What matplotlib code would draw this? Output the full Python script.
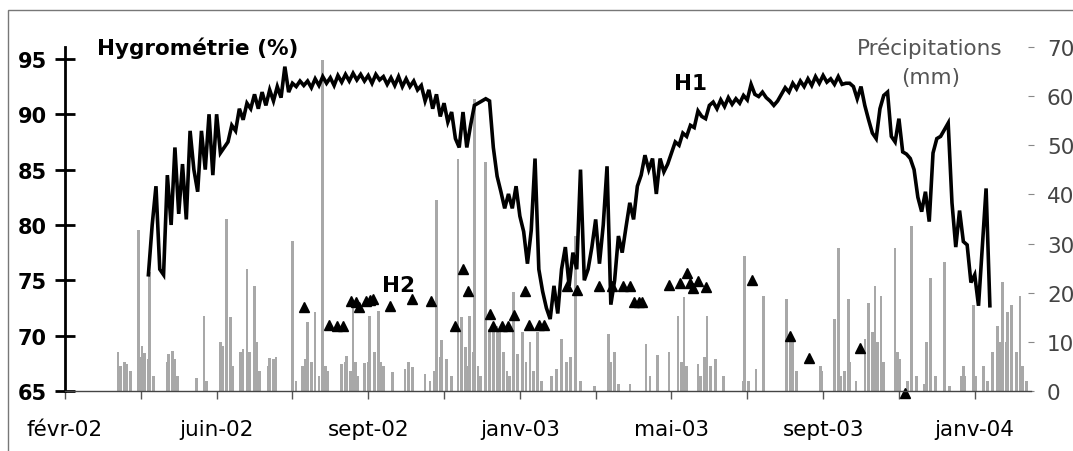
import matplotlib
matplotlib.use("Agg")
import matplotlib.pyplot as plt
import pandas as pd
from matplotlib.patches import Rectangle

W, H = 1073, 452

# ---------------- data ----------------
start = pd.Timestamp("2002-02-01")

# H1 hygrometry (%), one reading every 3 days from 8 April 2002
h1_start = "2002-04-08"
h1_values = [
    75.5, 80, 83.5, 76, 75.5, 84.5, 80, 87, 81, 85.5,
    80.5, 88.5, 85, 83, 88.5, 85, 90, 84.5, 90, 86.5,
    87, 87.5, 89, 88.5, 90.5, 89.5, 91, 90.5, 91.8, 90.5,
    92, 90.8, 92.2, 91.2, 92.5, 91.5, 94.3, 92.0, 92.8, 92.5,
    93, 92.6, 93, 92.4, 93.2, 92.6, 93.4, 92.8, 93.3, 92.6,
    93.5, 92.9, 93.6, 93, 93.7, 93.1, 93.6, 93, 93.5, 92.8,
    93.6, 93.1, 93.4, 92.7, 93.3, 92.6, 93.4, 92.5, 93.2, 92.5,
    93, 92.2, 92.6, 91.2, 92.2, 90.5, 91.8, 89.8, 91, 89.3,
    90.2, 87.8, 87, 90.2, 87, 89, 90.8, 91, 91.2, 91.4,
    91.2, 87, 84.4, 83, 81.5, 82.8, 81.5, 83.5, 80.8, 79.4,
    76.5, 79.5, 86, 76, 74, 72.5, 71.5, 74.5, 72, 76,
    78, 74.5, 77.5, 76, 85, 75, 76, 78, 80.5, 76.5,
    80, 85.3, 72.8, 75, 79, 77.5, 79.8, 82, 80.5, 83.5,
    84.5, 86.3, 85, 86, 82.8, 86, 84.8, 85.5, 86.5, 87.5,
    87.2, 88.3, 88, 89, 88.8, 90.3, 89.8, 89.6, 90.8, 91.1,
    90.5, 91.3, 90.7, 91.5, 90.9, 91.4, 91, 91.7, 91.3, 92.7,
    91.8, 91.6, 92, 91.5, 91.2, 90.8, 91.2, 91.8, 92.4, 92,
    92.8, 92.3, 93, 92.5, 93.2, 92.6, 93.4, 92.8, 93.5, 92.9,
    93.2, 92.7, 93.4, 92.7, 92.8, 92.8, 92.5, 91.4, 92.5, 90.8,
    89.5, 88.3, 87.8, 90.5, 91.7, 92, 88, 87.5, 89.6, 86.6,
    86.4, 86, 85, 82.5, 81.2, 83, 80.3, 86.5, 87.8, 88,
    88.6, 89.2, 82, 78, 81.3, 78.5, 78.2, 74.8, 75.5, 72.7,
    78, 83.3, 72.7,
]

# H2 hygrometry (%), days counted from 1 Feb 2002
h2_day = [189, 209, 215, 220, 226, 230, 233, 238, 241, 244,
          257, 275, 290, 309, 315, 319, 336, 339, 346, 351,
          355, 364, 367, 375, 379, 397, 405, 423, 433, 442,
          447, 450, 454, 457, 478, 487, 492, 495, 497, 501,
          507, 544, 574, 589, 629, 665]
h2_values = [72.6, 71.0, 70.9, 70.9, 73.1, 73.0, 72.6, 73.1, 73.2, 73.3,
             72.7, 73.3, 73.1, 70.9, 76.0, 74.0, 72.0, 70.9, 70.9, 70.9,
             71.9, 74.0, 71.0, 71.0, 71.0, 74.5, 74.1, 74.5, 74.5, 74.5,
             74.5, 73.0, 73.0, 73.0, 74.6, 74.8, 75.7, 74.8, 74.3, 74.9,
             74.4, 75.0, 70.0, 67.95, 68.9, 64.85]

# Daily precipitation (mm), days counted from 1 Feb 2002
precip_day = [42, 44, 47, 49, 52, 58, 59, 61, 63, 66,
              67, 70, 81, 82, 85, 87, 89, 104, 110, 112,
              123, 125, 128, 131, 133, 139, 141, 144, 146, 150,
              152, 154, 161, 162, 165, 167, 180, 183, 188, 190,
              192, 195, 198, 201, 204, 206, 208, 219, 222, 223,
              226, 228, 230, 232, 237, 240, 241, 245, 248, 250,
              252, 259, 269, 272, 275, 285, 289, 292, 294, 297,
              298, 302, 306, 311, 314, 317, 318, 320, 323, 324,
              327, 329, 333, 336, 339, 342, 344, 347, 350, 352,
              355, 358, 362, 365, 368, 371, 374, 377, 385, 389,
              393, 397, 400, 404, 408, 419, 430, 432, 435, 438,
              447, 460, 463, 469, 478, 485, 488, 490, 492, 501,
              503, 506, 508, 511, 515, 521, 537, 538, 541, 547,
              553, 571, 574, 576, 579, 598, 599, 609, 612, 614,
              617, 620, 621, 626, 633, 636, 639, 641, 643, 646,
              648, 657, 659, 661, 667, 670, 674, 680, 682, 685,
              689, 696, 700, 709, 711, 712, 719, 721, 727, 730,
              734, 738, 740, 742, 745, 746, 749, 753, 756, 758,
              761]
precip_mm = [8, 5, 6, 5.5, 4, 32.7, 7, 9.2, 7.8, 6.5,
             24.2, 3, 6, 7.5, 8.1, 6.6, 3, 2.7, 15.3, 2,
             10, 9.2, 35.1, 15, 5, 8, 8.6, 24.9, 8, 21.4,
             10, 4, 5, 6.8, 6.5, 7, 30.6, 2, 5, 6.5,
             14, 6, 16, 3, 67.3, 5, 4, 5.4, 6, 7.1,
             4, 17.4, 6, 3, 5.7, 6, 15.3, 8, 16.2, 6,
             5, 3.9, 4.5, 5.9, 4.8, 3.5, 2, 4, 38.8, 7,
             10.4, 6.5, 3, 47.3, 15, 9, 5, 15.3, 8, 59.5,
             5, 3, 46.5, 12.7, 12.7, 13.3, 12, 8, 4, 3,
             20.2, 7.5, 12, 6, 10, 4, 12, 2, 3, 4.5,
             10.6, 6, 7, 31.6, 2, 1, 11.6, 6, 8, 1.5,
             1.5, 9.6, 3, 7.3, 8, 15.3, 6, 19.2, 5, 5.5,
             3, 7, 15.3, 5, 6.5, 3, 2, 27.5, 2, 4.5,
             19.4, 18.8, 11.5, 11, 4, 5, 4, 14.7, 29, 3,
             4, 18.8, 6, 2, 10.6, 18, 12, 21.4, 10, 19.4,
             6, 29, 8, 6.5, 2, 33.5, 3, 1.5, 10, 22.9,
             3, 26.3, 1, 3, 5, 3, 17.4, 3, 5, 2,
             8, 13.3, 10, 22.2, 10, 16, 17.4, 8, 19.4, 5,
             2]

tick_labels = ["févr-02", "", "juin-02", "", "sept-02", "", "janv-03",
               "", "mai-03", "", "sept-03", "", "janv-04"]
left_ticks = [65, 70, 75, 80, 85, 90, 95]
right_ticks = [0, 10, 20, 30, 40, 50, 60, 70]

# ---------------- figure ----------------
plt.rcParams["font.family"] = ["DejaVu Sans"]
fig = plt.figure(figsize=(W / 100, H / 100), dpi=100)
fig.patch.set_facecolor("white")


def fx(px):
    return px / W


def fy(py):
    return 1 - py / H


ax_l, ax_r, ax_t, ax_b = 65, 1031, 48, 392
ax = fig.add_axes([fx(ax_l), fy(ax_b), fx(ax_r - ax_l), (ax_b - ax_t) / H])
ax2 = ax.twinx()

h1_dates = pd.date_range(h1_start, periods=len(h1_values), freq="3D")
h2_dates = start + pd.to_timedelta(h2_day, unit="D")
p_dates = start + pd.to_timedelta(precip_day, unit="D")
tick_dates = pd.date_range(start, periods=len(tick_labels), freq="60D")

# precipitation bars (right axis)
ax2.bar(p_dates, precip_mm, width=2.0, color="#a8a8a8", linewidth=0,
        align="center")
ax2.set_ylim(0, 70)
ax2.set_yticks(right_ticks)
ax2.tick_params(axis="y", direction="inout", length=5, width=0.8,
                color="#888888", labelcolor="#444444", labelsize=15.5, pad=9)
for s in ax2.spines.values():
    s.set_visible(False)

# hygrometry (left axis)
ax.set_zorder(ax2.get_zorder() + 1)
ax.patch.set_visible(False)
ax.plot(h1_dates, h1_values, color="black", lw=2.6, solid_joinstyle="miter")
ax.plot(h2_dates, h2_values, linestyle="none", marker="^", ms=7,
        color="black", clip_on=False)

ax.set_ylim(65, 65 + (ax_b - ax_t) / 11.07)
ax.set_yticks(left_ticks)
ax.set_xlim(start, start + pd.Timedelta(days=(ax_r - ax_l) / 1.2635))
ax.set_xticks(tick_dates)
ax.set_xticklabels(tick_labels)

ax.spines["top"].set_visible(False)
ax.spines["right"].set_visible(False)
ax.spines["left"].set_linewidth(2.0)
ax.spines["left"].set_color("black")
ax.spines["bottom"].set_linewidth(1.0)
ax.spines["bottom"].set_color("#444444")

ax.tick_params(axis="y", direction="inout", length=14, width=2.0,
               color="black", labelsize=15, pad=6)
for lab in ax.get_yticklabels():
    lab.set_fontweight("bold")
ax.tick_params(axis="x", direction="out", length=6, width=1.0,
               color="#555555", labelsize=15.5, pad=14)

# annotations
fig.text(fx(97), fy(55), "Hygrométrie (%)", fontsize=15.5, fontweight="bold",
         ha="left", va="baseline")
fig.text(fx(930), fy(55), "Précipitations", fontsize=15.5, color="#555555",
         ha="center", va="baseline")
fig.text(fx(931), fy(84), "(mm)", fontsize=15.5, color="#555555",
         ha="center", va="baseline")
fig.text(fx(691), fy(84), "H1", fontsize=15.5, fontweight="bold",
         ha="center", va="center")
fig.text(fx(398), fy(286), "H2", fontsize=15.5, fontweight="bold",
         ha="center", va="center")

# outer frame
fig.add_artist(Rectangle((fx(8), -0.1), 2, fy(11) + 0.1, fill=False,
                         edgecolor="#777777", lw=1.0,
                         transform=fig.transFigure))

fig.savefig("out.png", dpi=100)
